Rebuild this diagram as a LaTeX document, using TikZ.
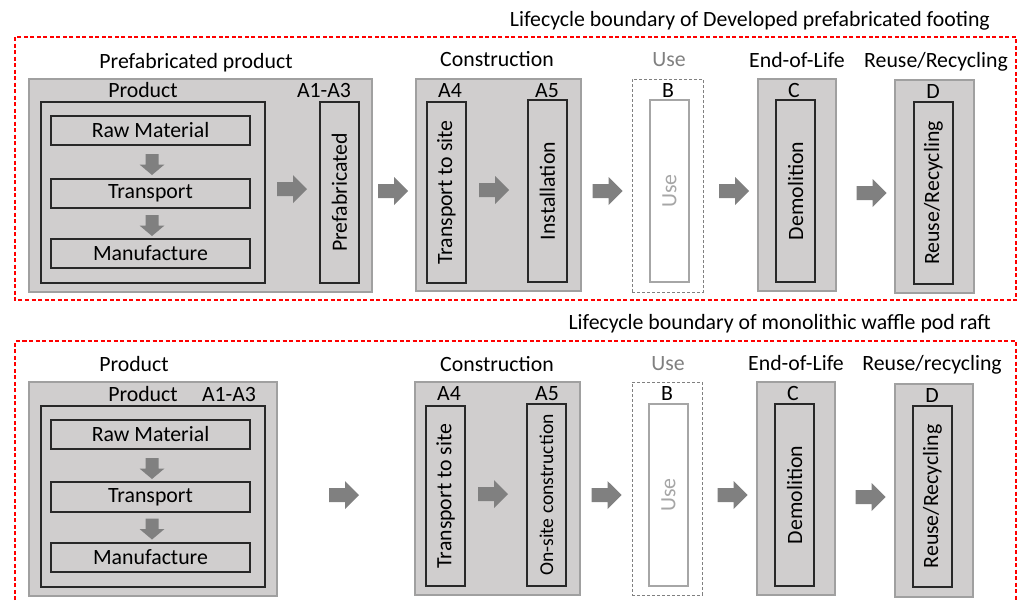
\documentclass[tikz,border=0pt]{standalone}
\usepackage{fontspec}
\setmainfont{Carlito}
\definecolor{boxgray}{RGB}{208,206,206}
\definecolor{bordergray}{RGB}{160,160,160}
\definecolor{arrowgray}{RGB}{128,128,128}
\definecolor{usegray}{RGB}{128,128,128}
\definecolor{uselight}{RGB}{166,166,166}
\definecolor{darkline}{RGB}{40,40,40}
\begin{document}
\begin{tikzpicture}[x=1pt,y=-1pt,
  every node/.style={font=\fontsize{21.8}{26}\selectfont, inner sep=0pt},
  boundary/.style={draw=red, line width=1.1pt, dash pattern=on 4pt off 2.5pt},
  outerbox/.style={draw=bordergray, fill=boxgray, line width=1.4pt},
  usebox/.style={draw=usegray, line width=1pt, dash pattern=on 3pt off 2pt},
  inbox/.style={draw=darkline, fill=boxgray, line width=1.2pt},
  whitebox/.style={draw=uselight, fill=white, line width=1.2pt},
  vbox/.style={inbox, rotate=90},
  vwhite/.style={whitebox, rotate=90, text=uselight},
  lbl/.style={anchor=base},
  rarr/.pic={\fill[arrowgray] (-15,-7) -- (1,-7) -- (1,-14) -- (15,0) -- (1,14) -- (1,7) -- (-15,7) -- cycle;},
  darr/.pic={\fill[arrowgray] (-6.5,-10.5) -- (6.5,-10.5) -- (6.5,0) -- (12.5,0) -- (0,10.5) -- (-12.5,0) -- (-6.5,0) -- cycle;}
]
\useasboundingbox (0,0) rectangle (1019,600);

% ===================== TOP =====================
\draw[boundary] (15,37) rectangle (1016,300);
\node[anchor=base east] (t1) at (990,26) {Lifecycle boundary of Developed prefabricated footing};

\node[lbl] (h1) at (196,68) {Prefabricated product};
\node[outerbox, minimum width=343, minimum height=213] (p1) at (200.5,185.5) {};
\node[lbl] (p1l) at (143,97) {Product};
\node[lbl] (p1a) at (324,97) {A1-A3};
\node[inbox, minimum width=224, minimum height=181] (p1in) at (153,192.5) {};
\node[inbox, minimum width=199, minimum height=29] (raw1) at (150.5,130.5) {Raw Material};
\node[inbox, minimum width=199, minimum height=29] (tr1) at (150.5,193.5) {Transport};
\node[inbox, minimum width=199, minimum height=29] (man1) at (150.5,253.5) {Manufacture};
\pic at (152,164.5) {darr};
\pic at (152,225.5) {darr};
\node[vbox, minimum width=181, minimum height=39] (pf1) at (339.5,192.5) {Prefabricated};
\pic at (292,189) {rarr};
\pic at (393,191) {rarr};

\node[lbl] (h2) at (497,66) {Construction};
\node[outerbox, minimum width=165, minimum height=212] (c1) at (498.5,185) {};
\node[lbl] (a41) at (450,97) {A4};
\node[vbox, minimum width=181, minimum height=39] (ts1) at (446.5,192.5) {Transport to site};
\pic at (494,190) {rarr};
\node[lbl] (a51) at (547,97) {A5};
\node[vbox, minimum width=182, minimum height=39] (in1) at (547.5,191) {Installation};
\pic at (607.5,191) {rarr};

\node[lbl, text=usegray] (h3) at (669,66) {Use};
\node[usebox, minimum width=71, minimum height=213] (u1) at (667.5,185.5) {};
\node[lbl] (b1) at (668,97) {B};
\node[vwhite, minimum width=182, minimum height=39] (uw1) at (669.5,191) {Use};
\pic at (734,191) {rarr};

\node[lbl] (h4) at (797,67) {End-of-Life};
\node[outerbox, minimum width=78, minimum height=212] (e1) at (797,185) {};
\node[lbl] (cc1) at (794,97) {C};
\node[vbox, minimum width=182, minimum height=39] (dm1) at (795.5,191) {Demolition};
\pic at (871.5,193) {rarr};

\node[lbl] (h5) at (936,67) {Reuse/Recycling};
\node[outerbox, minimum width=79, minimum height=213] (r1) at (934.5,186.5) {};
\node[lbl] (d1) at (933,98) {D};
\node[vbox, minimum width=182, minimum height=39] (rr1) at (933.5,193) {Reuse/Recycling};

% ===================== BOTTOM =====================
\draw[boundary] (15,600) -- (15,341) -- (1016,341) -- (1016,600);
\node[anchor=base east] (t2) at (991,329) {Lifecycle boundary of monolithic waffle pod raft};

\node[lbl] (g1) at (134,371) {Product};
\node[outerbox, minimum width=248, minimum height=214] (p2) at (153,489) {};
\node[lbl] (p2l) at (143,401) {Product};
\node[lbl] (p2a) at (229,401) {A1-A3};
\node[inbox, minimum width=224, minimum height=181] (p2in) at (153,496.5) {};
\node[inbox, minimum width=199, minimum height=29] (raw2) at (150.5,434.5) {Raw Material};
\node[inbox, minimum width=199, minimum height=30] (tr2) at (150.5,497) {Transport};
\node[inbox, minimum width=199, minimum height=29] (man2) at (150.5,557.5) {Manufacture};
\pic at (152,468.5) {darr};
\pic at (152,529) {darr};
\pic at (344,495) {rarr};

\node[lbl] (g2) at (497,371) {Construction};
\node[outerbox, minimum width=165, minimum height=213] (c2) at (497.5,488.5) {};
\node[lbl] (a42) at (449,400) {A4};
\node[vbox, minimum width=180, minimum height=39] (ts2) at (445.5,496) {Transport to site};
\pic at (493,494) {rarr};
\node[lbl] (a52) at (547,400) {A5};
\node[vbox, minimum width=182, minimum height=39, font=\fontsize{19.6}{24}\selectfont] (os2) at (546.5,495) {On-site construction};
\pic at (606.5,495) {rarr};

\node[lbl, text=usegray] (g3) at (668,370) {Use};
\node[usebox, minimum width=70, minimum height=213] (u2) at (667,488.5) {};
\node[lbl] (b2) at (667,400) {B};
\node[vwhite, minimum width=182, minimum height=39] (uw2) at (668.5,495) {Use};
\pic at (732.5,495) {rarr};

\node[lbl] (g4) at (796,370) {End-of-Life};
\node[outerbox, minimum width=78, minimum height=213] (e2) at (796,488.5) {};
\node[lbl] (cc2) at (793,400) {C};
\node[vbox, minimum width=182, minimum height=39] (dm2) at (794.5,495) {Demolition};
\pic at (870.5,497) {rarr};

\node[lbl] (g5) at (932,370) {Reuse/recycling};
\node[outerbox, minimum width=78, minimum height=213] (r2) at (934,490.5) {};
\node[lbl] (d2) at (932,402) {D};
\node[vbox, minimum width=181, minimum height=39] (rr2) at (932.5,496.5) {Reuse/Recycling};
\end{tikzpicture}
\end{document}
